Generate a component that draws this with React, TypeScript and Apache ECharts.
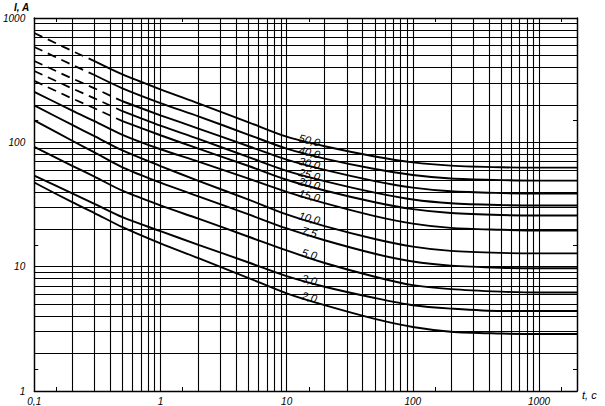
import React, { useEffect, useRef } from 'react';
import * as echarts from 'echarts';

// time, s (x axis, log)
const times = [0.1, 0.2, 0.3, 0.5, 1, 2, 5, 10, 20, 50, 100, 200, 500, 1000, 2000];
// current, A for each curve
const c50 = [757, 543, 450, 352, 267, 206, 145, 111, 93, 77, 69, 65, 63, 62.6, 62.6];
const c40 = [585, 419, 348, 272, 207, 162, 115, 89, 74, 61, 54.6, 51.2, 49.7, 49.2, 49.2];
const c30 = [451, 326, 272, 214, 165, 129, 93, 72.5, 60, 48.8, 43.2, 40.4, 39.1, 38.7, 38.7];
const c25 = [375, 271, 226, 178, 136, 106.5, 76, 59, 48.8, 39.4, 34.7, 32.4, 31.3, 31, 31];
const c20 = [312, 225, 188, 148, 114, 89, 64.5, 50, 41, 33, 29, 27, 26, 25.8, 25.8];
const c15 = [255, 180, 148, 115, 88, 70, 51, 40, 32.4, 25.5, 22.2, 20.5, 19.8, 19.5, 19.5];
const c10 = [198, 138, 112, 86, 64.5, 49, 34.6, 26.3, 21.2, 16.7, 14.5, 13.4, 12.9, 12.8, 12.8];
const c7_5 = [150, 103, 83, 63, 47.4, 36.8, 26.3, 20.3, 16.3, 12.7, 11.0, 10.2, 9.8, 9.7, 9.7];
const c5 = [92, 64.7, 53, 40.8, 31.1, 24.3, 17.4, 13.5, 10.7, 8.3, 7.1, 6.6, 6.3, 6.2, 6.2];
const c3 = [54, 38.8, 32, 25, 19.3, 15.0, 10.8, 8.4, 6.9, 5.6, 4.9, 4.6, 4.4, 4.4, 4.4];
const c2 = [47.5, 33, 27, 20.8, 15.4, 11.7, 8.1, 6.1, 4.9, 3.8, 3.27, 3.0, 2.9, 2.87, 2.87];

const curveLabels = ['50,0', '40,0', '30,0', '25,0', '20,0', '15,0', '10,0', '7,5', '5,0', '3,0', '2,0'];
const curveValues = [c50, c40, c30, c25, c20, c15, c10, c7_5, c5, c3, c2];
// index in `times` where the dashed start of a curve ends (0 = no dashed part)
const dashEnds = [2, 2, 3, 3, 3, 0, 0, 0, 0, 0, 0];

const xMajor = [0.1, 1, 10, 100, 1000];
const xHalf = [0.15, 1.5, 15, 150, 1500];
const yMajor = [1, 10, 100, 1000];
const yHalf = [1.5, 15, 150];

const FONT = 'Liberation Sans';
const LABEL_INDEX = 7; // t = 10 s

function buildGridValues(decades: number[], maxV: number): number[] {
  const out: number[] = [];
  for (const d of decades) {
    for (let k = 1; k <= 9; k++) {
      const v = +(k * d).toPrecision(4);
      if (v <= maxV) out.push(v);
    }
  }
  return out;
}

export default function App() {
  const ref = useRef<HTMLDivElement>(null);

  useEffect(() => {
    if (!ref.current) return;
    const chart = echarts.init(ref.current, undefined, { renderer: 'svg' });

    const xGrid = buildGridValues([0.1, 1, 10, 100, 1000], 2000);
    const yGrid = buildGridValues([1, 10, 100, 1000], 1000);

    const series: any[] = [];
    series.push({
      type: 'line',
      data: [[0.1, 1]],
      symbol: 'none',
      lineStyle: { width: 0 },
      silent: true,
      z: 1,
      markLine: {
        silent: true,
        symbol: ['none', 'none'],
        label: { show: false },
        animation: false,
        lineStyle: { color: '#000', width: 1.1, type: 'solid' },
        emphasis: { disabled: true },
        data: [
          ...xGrid.map((v) => ({ xAxis: v })),
          ...yGrid.map((v) => ({ yAxis: v })),
        ],
      },
    });

    curveValues.forEach((vals, ci) => {
      const pts = times.map((t, i) => [t, vals[i]]);
      const k = dashEnds[ci];
      if (k > 0) {
        series.push({
          type: 'line',
          data: pts.slice(0, k + 1),
          symbol: 'none',
          silent: true,
          z: 5,
          lineStyle: { color: '#000', width: 1.8, type: [9, 6] },
        });
      }
      series.push({
        type: 'line',
        data: pts.slice(k),
        symbol: 'none',
        smooth: 0.3,
        silent: true,
        z: 5,
        lineStyle: { color: '#000', width: 1.9 },
        markPoint: {
          silent: true,
          symbol: 'circle',
          symbolSize: 1,
          itemStyle: { color: 'rgba(0,0,0,0)' },
          data: [{ coord: [times[LABEL_INDEX], vals[LABEL_INDEX]] }],
          label: {
            show: true,
            formatter: curveLabels[ci],
            position: 'inside',
            offset: [23, -2],
            rotate: -14,
            color: '#000',
            fontSize: 11,
            fontStyle: 'italic',
            fontFamily: FONT,
          },
        },
      });
    });

    const axisLine = { show: true, onZero: false, lineStyle: { color: '#000', width: 1.4 } };
    const labelStyle = { color: '#000', fontSize: 10, fontStyle: 'italic', fontFamily: FONT };

    chart.setOption({
      animation: false,
      backgroundColor: '#fff',
      grid: { left: 34, right: 28, top: 18, bottom: 14 },
      xAxis: [
        {
          type: 'log',
          logBase: 10,
          min: 0.1,
          max: 2000,
          position: 'bottom',
          axisLine,
          axisTick: { show: true, inside: true, length: 4, customValues: xHalf, lineStyle: { color: '#000' } },
          axisLabel: {
            ...labelStyle,
            margin: 5,
            customValues: xMajor,
            formatter: (v: number) => (v < 1 ? String(v).replace('.', ',') : String(v)),
          },
          splitLine: { show: false },
        },
        {
          type: 'log',
          logBase: 10,
          min: 0.1,
          max: 2000,
          position: 'top',
          axisLine,
          axisTick: { show: true, inside: true, length: 4, customValues: xHalf, lineStyle: { color: '#000' } },
          axisLabel: { show: false },
          splitLine: { show: false },
        },
      ],
      yAxis: [
        {
          type: 'log',
          logBase: 10,
          min: 1,
          max: 1000,
          position: 'left',
          axisLine,
          axisTick: { show: true, inside: true, length: 4, customValues: yHalf, lineStyle: { color: '#000' } },
          axisLabel: { ...labelStyle, margin: 9, customValues: yMajor, formatter: (v: number) => String(v) },
          splitLine: { show: false },
        },
        {
          type: 'log',
          logBase: 10,
          min: 1,
          max: 1000,
          position: 'right',
          axisLine,
          axisTick: { show: true, inside: true, length: 4, customValues: yHalf, lineStyle: { color: '#000' } },
          axisLabel: { show: false },
          splitLine: { show: false },
        },
      ],
      graphic: [
        {
          type: 'text',
          left: 14,
          top: 2,
          style: { text: 'I, A', fill: '#000', fontSize: 10, fontStyle: 'italic', fontWeight: 'bold', fontFamily: FONT },
        },
        {
          type: 'text',
          left: 582,
          top: 389,
          style: { text: 't, c', fill: '#000', fontSize: 11, fontStyle: 'italic', fontFamily: FONT },
        },
      ],
      series,
    });

    return () => chart.dispose();
  }, []);

  return (
    <div
      ref={ref}
      style={{ position: 'fixed', left: 0, top: 0, width: 605, height: 406, background: '#fff' }}
    />
  );
}
